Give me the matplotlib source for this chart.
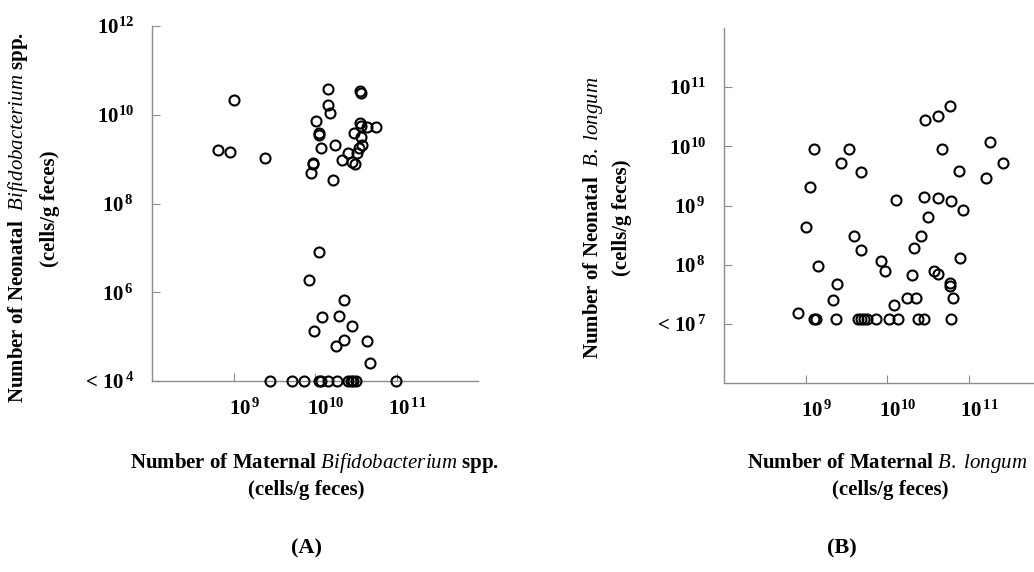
import matplotlib
matplotlib.use("Agg")
import matplotlib.pyplot as plt
import numpy as np
from matplotlib.transforms import ScaledTranslation

plt.rcParams["font.family"] = "Liberation Serif"
plt.rcParams["mathtext.fontset"] = "custom"
plt.rcParams["mathtext.rm"] = "Liberation Serif"
plt.rcParams["mathtext.it"] = "Liberation Serif:italic"
plt.rcParams["mathtext.bf"] = "Liberation Serif:bold"

# log10 cell counts
# (A) Bifidobacterium spp.: maternal vs neonatal
a_maternal = [9.01, 8.81, 8.96, 9.39, 10.16, 10.55, 10.56, 10.16, 10.19, 10.01,
              10.05, 10.05, 10.07, 10.24, 9.97, 9.98, 9.95, 10.22, 10.33, 10.40,
              10.45, 10.49, 10.52, 10.54, 10.58, 10.57, 10.48, 10.55, 10.56, 10.64,
              10.75,
              10.05, 9.93, 10.36, 10.09, 10.29, 10.46, 9.99, 10.35, 10.26, 10.64, 10.67,
              9.45, 9.72, 9.86, 10.05, 10.07, 10.16, 10.27, 10.41, 10.44, 10.47, 10.50, 10.99]
a_neonatal = [10.33, 9.21, 9.16, 9.02, 10.57, 10.53, 10.50, 10.23, 10.03, 9.85,
              9.59, 9.55, 9.24, 9.32, 8.92, 8.89, 8.69, 8.52, 8.98, 9.14,
              8.94, 8.89, 9.13, 9.25, 9.32, 9.49, 9.58, 9.82, 9.74, 9.72,
              9.73,
              6.91, 6.27, 5.82, 5.45, 5.46, 5.23, 5.12, 4.93, 4.80, 4.91, 4.40,
              4.0, 4.0, 4.0, 4.0, 4.0, 4.0, 4.0, 4.0, 4.0, 4.0, 4.0, 4.0]

# (B) B. longum: maternal vs neonatal
b_maternal = [10.77, 10.62, 10.47, 11.26, 9.10, 9.53, 10.68, 9.44, 11.42, 9.68,
              10.88, 11.22, 9.05, 10.11, 10.45, 10.62, 10.79, 10.93, 10.50, 9.00,
              9.60, 10.42, 10.33, 9.68, 9.93, 10.90, 9.15, 9.98, 10.58, 10.63,
              10.31, 9.39, 10.77, 10.77, 9.34, 10.24, 10.36, 10.81, 10.09, 8.91,
              9.10, 9.13, 9.38, 9.64, 9.68, 9.72, 9.75, 9.86, 10.03, 10.14, 10.38, 10.45, 10.79]
b_neonatal = [10.68, 10.51, 10.45, 10.07, 9.96, 9.96, 9.96, 9.71, 9.71, 9.56,
              9.59, 9.46, 9.32, 9.10, 9.15, 9.12, 9.07, 8.93, 8.81, 8.64,
              8.49, 8.48, 8.28, 8.24, 8.07, 8.12, 7.98, 7.90, 7.90, 7.85,
              7.83, 7.67, 7.69, 7.64, 7.41, 7.44, 7.44, 7.44, 7.31, 7.19,
              7.08, 7.08, 7.08, 7.08, 7.08, 7.08, 7.08, 7.08, 7.08, 7.08, 7.08, 7.08, 7.08]

x_ticks = [9, 10, 11]
x_labels = [r"$\mathbf{10}^{\,\mathbf{9}}$", r"$\mathbf{10^{10}}$", r"$\mathbf{10}^{\,\mathbf{11}}$"]
a_y_ticks = [4, 6, 8, 10, 12]
a_y_labels = [r"$\mathbf{<\,10}^{\,\mathbf{4}}$", r"$\mathbf{10}^{\,\mathbf{6}}$",
              r"$\mathbf{10}^{\,\mathbf{8}}$", r"$\mathbf{10^{10}}$", r"$\mathbf{10^{12}}$"]
b_y_ticks = [7, 8, 9, 10, 11]
b_y_labels = [r"$\mathbf{<\,10}^{\,\mathbf{7}}$", r"$\mathbf{10}^{\,\mathbf{8}}$",
              r"$\mathbf{10}^{\,\mathbf{9}}$", r"$\mathbf{10^{10}}$", r"$\mathbf{10^{11}}$"]

fig = plt.figure(figsize=(10.34, 5.72), dpi=100)
W, H = 1034, 572


def make_axes(left, right, top, bottom):
    return fig.add_axes([left / W, 1 - bottom / H, (right - left) / W, (bottom - top) / H])


ax_a = make_axes(152, 478, 26, 381)
ax_b = make_axes(724, 1050, 28, 383)


def style(ax, xs, ys, ylim, yticks, ylabels):
    ax.plot(10.0 ** np.array(xs), 10.0 ** np.array(ys), "o", ms=7.2, mfc="none",
            mec="black", mew=1.5, clip_on=False, zorder=3)
    ax.set_xscale("log")
    ax.set_yscale("log")
    ax.set_xlim(1e8, 1e12)
    ax.set_ylim(10.0 ** ylim[0], 10.0 ** ylim[1])
    ax.minorticks_off()
    ax.set_xticks([10.0 ** t for t in x_ticks])
    ax.set_xticklabels(x_labels)
    ax.set_yticks([10.0 ** t for t in yticks])
    ax.set_yticklabels(ylabels)
    for s in ["top", "right"]:
        ax.spines[s].set_visible(False)
    for s in ["left", "bottom"]:
        ax.spines[s].set_color("#8c8c8c")
        ax.spines[s].set_linewidth(1.0)
    ax.tick_params(direction="in", length=6, color="#8c8c8c", labelsize=15)
    ax.tick_params(axis="x", pad=13)
    ax.tick_params(axis="y", pad=13)
    for lab in ax.get_xticklabels():
        lab.set_transform(lab.get_transform() + ScaledTranslation(0.11, 0, fig.dpi_scale_trans))


style(ax_a, a_maternal, a_neonatal, (4, 12), a_y_ticks, a_y_labels)
style(ax_b, b_maternal, b_neonatal, (6, 12), b_y_ticks, b_y_labels)

lab_kw = dict(fontsize=15, fontweight="bold", ha="center", va="center")
fig.text(18 / W, 1 - 218 / H, r"Number of Neonatal  $\mathit{Bifidobacterium}$ spp.", rotation=90, **lab_kw)
fig.text(50 / W, 1 - 209 / H, "(cells/g feces)", rotation=90, **lab_kw)
fig.text(593 / W, 1 - 218 / H, r"Number of Neonatal  $\mathit{B.\ longum}$", rotation=90, **lab_kw)
fig.text(622 / W, 1 - 218 / H, "(cells/g feces)", rotation=90, **lab_kw)

fig.text(315 / W, 1 - 463 / H, r"Number of Maternal $\mathit{Bifidobacterium}$ spp.", **lab_kw)
fig.text(306 / W, 1 - 490 / H, "(cells/g feces)", **lab_kw)
fig.text(887 / W, 1 - 463 / H, r"Number of Maternal $\mathit{B.\ longum}$", **lab_kw)
fig.text(890 / W, 1 - 490 / H, "(cells/g feces)", **lab_kw)

fig.text(307 / W, 1 - 548 / H, "(A)", fontsize=16, fontweight="bold", ha="center", va="center")
fig.text(842 / W, 1 - 548 / H, "(B)", fontsize=16, fontweight="bold", ha="center", va="center")

fig.savefig("out.png", dpi=100)
